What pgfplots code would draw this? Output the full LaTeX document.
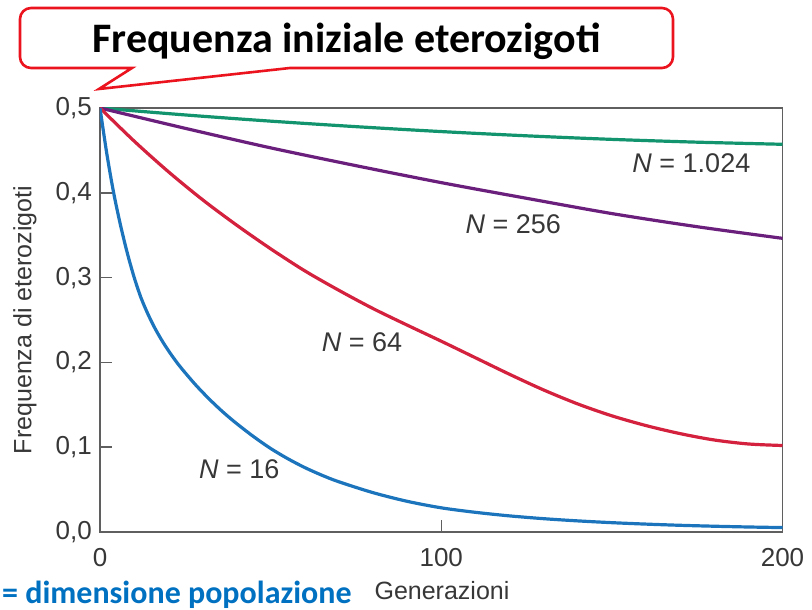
\documentclass[border=0pt]{standalone}
\usepackage{pgfplots}
\pgfplotsset{compat=1.18}
\usepackage{fontspec}
\setmainfont{Liberation Sans}
\newfontfamily\calibri{Carlito}
\definecolor{framegray}{RGB}{95,95,95}
\definecolor{txtgray}{RGB}{55,55,55}
\definecolor{cgreen}{RGB}{18,148,110}
\definecolor{cpurple}{RGB}{107,31,124}
\definecolor{cred}{RGB}{212,33,61}
\definecolor{cblue}{RGB}{28,117,188}
\definecolor{calloutred}{RGB}{235,20,30}
\definecolor{officeblue}{RGB}{0,112,192}
\begin{document}
\begin{tikzpicture}[x=1pt,y=1pt]
\path[use as bounding box] (-100,-78) rectangle (712,532);
\begin{axis}[
  at={(0,0)}, anchor=south west,
  scale only axis, width=682.5pt, height=424pt,
  xmin=0, xmax=200, ymin=0, ymax=0.5,
  axis line style={draw=framegray, line width=1.8pt},
  tick align=inside, tick pos=left,
  xtick={0,100,200}, ytick={0,0.1,0.2,0.3,0.4,0.5},
  major tick length=12pt,
  tick style={draw=framegray, line width=1.5pt},
  /pgf/number format/assume math mode=true,
  yticklabel style={/pgf/number format/fixed, /pgf/number format/fixed zerofill, /pgf/number format/precision=1, /pgf/number format/use comma},
  yticklabel style={anchor=east, inner sep=0pt, xshift=-8pt, text=txtgray, font=\fontsize{26}{26}\selectfont},
  xticklabel style={anchor=north, inner sep=0pt, yshift=-16pt, text=txtgray, font=\fontsize{26}{26}\selectfont},
  every axis plot/.append style={line width=3.2pt},
]
\addplot[cgreen, smooth] coordinates {
 (0,0.5) (25,0.4918) (50,0.4845) (75,0.4780) (100,0.4722) (125,0.4672) (150,0.4630) (175,0.4597) (200,0.4572)};
\addplot[cpurple, smooth] coordinates {
 (0,0.5) (25,0.476) (50,0.453) (75,0.432) (100,0.412) (125,0.3935) (150,0.3755) (175,0.3600) (200,0.3463)};
\addplot[cred, smooth] coordinates {
 (0,0.5) (10,0.461) (20,0.425) (30,0.392) (40,0.362) (50,0.334) (60,0.308) (70,0.285) (80,0.2635) (90,0.244) (100,0.225) (110,0.2055) (120,0.186) (130,0.1675) (140,0.151) (150,0.137) (160,0.1255) (170,0.116) (180,0.1085) (190,0.1038) (200,0.1020)};
\addplot[cblue, smooth] coordinates {
 (0,0.5) (2,0.446) (4,0.400) (6,0.362) (8,0.329) (10,0.3004) (12,0.2764) (14,0.2574) (16,0.2410) (18,0.2268) (20,0.2142) (22,0.2028) (24,0.1924) (28,0.1736) (32,0.1568) (36,0.1416) (40,0.1280) (45,0.1125) (50,0.0985) (55,0.0865) (60,0.0760) (65,0.0670) (70,0.0592) (80,0.0464) (90,0.0362) (100,0.0285) (110,0.0232) (120,0.0190) (130,0.0157) (140,0.0131) (150,0.0110) (160,0.0093) (170,0.0079) (180,0.0068) (190,0.0059) (200,0.0052)};
\node[text=txtgray, font=\fontsize{27}{27}\selectfont] at (axis cs:173.3,0.435) {\textit{N} = 1.024};
\node[text=txtgray, font=\fontsize{27}{27}\selectfont] at (axis cs:121.1,0.363) {\textit{N} = 256};
\node[text=txtgray, font=\fontsize{27}{27}\selectfont] at (axis cs:76.8,0.224) {\textit{N} = 64};
\node[text=txtgray, font=\fontsize{27}{27}\selectfont] at (axis cs:40.8,0.074) {\textit{N} = 16};
\end{axis}
% axis labels
\node[text=txtgray, font=\fontsize{25}{25}\selectfont] at (342,-59) {Generazioni};
\node[text=txtgray, font=\fontsize{25}{25}\selectfont, rotate=90] at (-75,212) {Frequenza di eterozigoti};
% callout
\draw[calloutred, line width=2.6pt, fill=white, line join=miter]
  (32,464) -- (-1,443) -- (190,464) -- (562,464)
  arc[start angle=270, end angle=360, radius=11] -- (573,513)
  arc[start angle=0, end angle=90, radius=11] -- (-69,524)
  arc[start angle=90, end angle=180, radius=11] -- (-80,475)
  arc[start angle=180, end angle=270, radius=11] -- cycle;
\node[anchor=base, inner sep=0pt, font=\calibri\bfseries\fontsize{42}{42}\selectfont] at (246.5,479) {Frequenza iniziale eterozigoti};
\node[anchor=base west, inner sep=0pt, text=officeblue, font=\calibri\bfseries\fontsize{32}{32}\selectfont] at (-98,-71.5) {= dimensione popolazione};
\end{tikzpicture}
\end{document}
